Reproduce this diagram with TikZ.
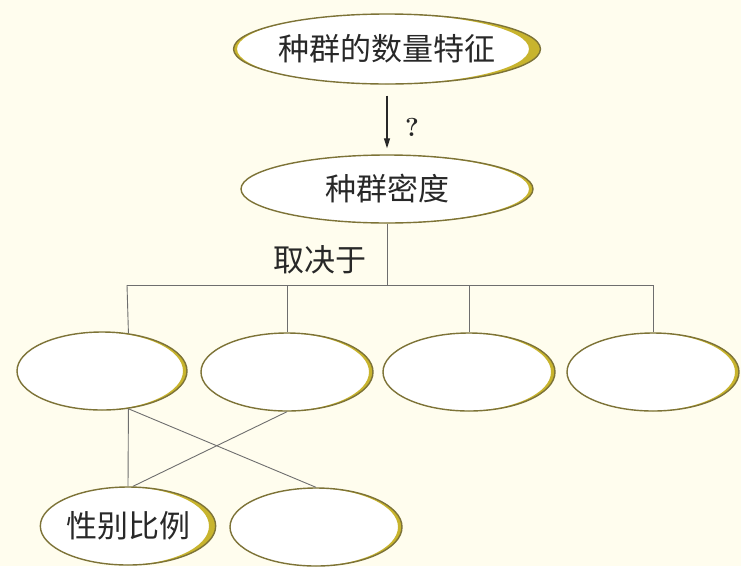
\documentclass[tikz,border=0pt]{standalone}
\usepackage{fontspec}
\newfontfamily\cjk{Noto Sans CJK SC}
\usetikzlibrary{shapes.geometric,arrows.meta}
\definecolor{bg}{RGB}{255,253,238}
\definecolor{rim}{RGB}{125,115,55}
\definecolor{glow}{RGB}{200,180,45}
\definecolor{ink}{RGB}{40,40,40}
\definecolor{wire}{RGB}{110,110,110}
\tikzset{
  oval/.style 2 args={ellipse, draw=rim, line width=1.4pt, fill=white, inner sep=0pt,
    minimum width=#1, minimum height=#2, font=\cjk\fontsize{31}{31}\selectfont, text=ink,
    path picture={\fill[glow, even odd rule]
      (path picture bounding box.south west) rectangle (path picture bounding box.north east)
      ([xshift=-4pt]path picture bounding box.center) ellipse [x radius=#1/2, y radius=#2/2];}},
  wireline/.style={draw=wire, line width=0.9pt},
  cjktext/.style={font=\cjk\fontsize{31}{31}\selectfont, text=ink, inner sep=0pt},
}
\begin{document}
\begin{tikzpicture}[x=1pt,y=-1pt]
\fill[bg] (0,0) rectangle (741,566);
\useasboundingbox (0,0) rectangle (741,566);

\node[oval={292pt}{70pt}] (feat) at (387,49) {种群的数量特征};
\node[oval={292pt}{68pt}] (dens) at (387,189) {种群密度};
\node[cjktext] (dep) at (320,260) {取决于};
\node[text=ink, font=\bfseries\fontsize{26}{26}\selectfont, inner sep=0pt] (q) at (412,127) {?};

\node[oval={170pt}{78pt}] (f1) at (102,371) {};
\node[oval={172pt}{78pt}] (f2) at (287,372) {};
\node[oval={172pt}{78pt}] (f3) at (469,372) {};
\node[oval={172pt}{78pt}] (f4) at (653,372) {};

\node[oval={170pt}{78pt}] (s1) at (128,526) {性别比例};
\node[oval={172pt}{78pt}] (s2) at (316,527) {};

\draw[draw=ink, line width=1.2pt, -{Triangle[length=10pt,width=6pt]}, shorten <=11pt, shorten >=6pt]
  (feat.south) -- (dens.north);

\coordinate (barL) at (127,285);
\coordinate (barR) at (653,285);
\draw[wireline] (dens.south) -- (dens.south |- barL);
\draw[wireline] (barL) -- (barR);
\draw[wireline] (barL) -- (f1.55);
\draw[wireline] (f2.north |- barL) -- (f2.north);
\draw[wireline] (f3.north |- barL) -- (f3.north);
\draw[wireline] (barR) -- (f4.north);

\draw[wireline] (f1.-55) -- (s1.north);
\draw[wireline] (f1.-55) -- (s2.north);
\draw[wireline] (f2.south) -- (s1.83);
\end{tikzpicture}
\end{document}
